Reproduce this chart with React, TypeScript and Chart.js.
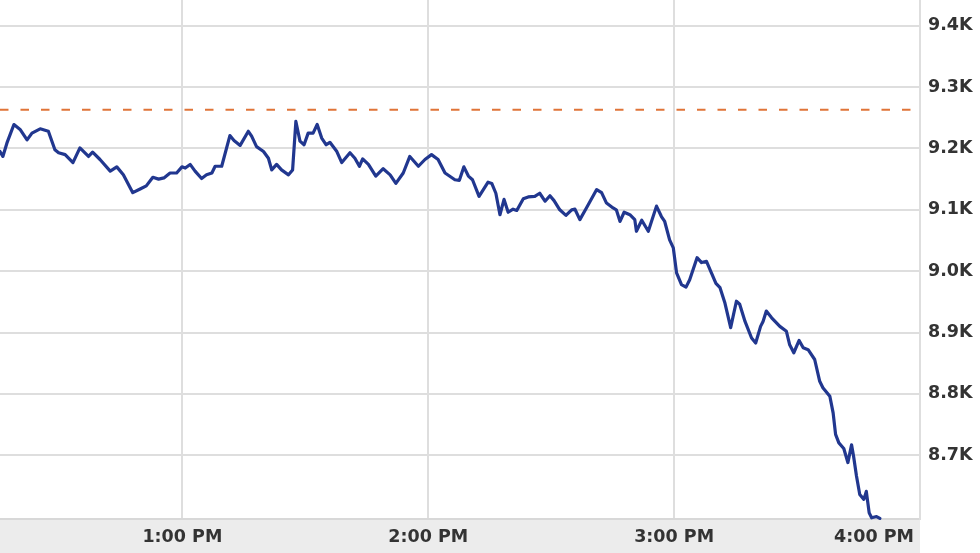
import React, { useEffect, useRef } from "react";
import { Chart, registerables } from "chart.js";

Chart.register(...registerables);

// time in minutes after 12:00 PM
const times = [
  15.5, 16.2, 17.2, 18.9, 20.4, 22.1, 23.3, 25.3, 27.3, 28.9, 29.8, 31.4, 33.3, 35.0, 37.1, 38.1, 39.9,
  42.4, 44.0, 45.6, 47.9, 49.7, 51.2, 52.8, 54.2, 55.5, 57.0, 58.6, 59.9, 60.7, 61.9, 63.1, 64.7, 65.9,
  67.2, 68.0, 69.6, 71.6, 72.6, 74.1, 76.1, 76.9, 78.1, 79.8, 81.0, 81.8, 83.0, 84.2, 85.9, 86.9, 87.7,
  88.7, 89.7, 90.7, 91.9, 92.9, 94.0, 95.1, 96.0, 97.7, 98.9, 100.9, 102.1, 103.2, 104.0, 105.4, 107.2,
  109.0, 110.7, 112.1, 113.9, 115.5, 117.6, 119.2, 120.8, 122.4, 124.1, 126.5, 127.6, 128.7, 129.8,
  130.8, 132.4, 134.6, 135.5, 136.5, 137.5, 138.5, 139.5, 140.7, 141.6, 143.2, 144.4, 146.0, 147.2,
  148.5, 149.7, 150.7, 152.1, 153.6, 155.0, 155.8, 157.0, 158.6, 161.1, 162.3, 163.5, 165.1, 165.9,
  166.8, 167.8, 169.2, 170.4, 170.8, 172.1, 173.7, 175.7, 176.9, 177.7, 178.9, 179.8, 180.6, 181.8,
  182.9, 183.8, 185.6, 186.7, 187.9, 189.1, 190.2, 191.2, 192.4, 193.8, 195.2, 196.0, 197.3, 198.9,
  199.9, 201.1, 201.7, 202.5, 203.8, 205.8, 207.4, 208.2, 209.2, 210.5, 211.5, 212.7, 214.3, 215.5,
  216.3, 218.0, 218.8, 219.4, 220.2, 221.4, 222.4, 223.3, 223.8, 224.5, 225.3, 226.3, 226.9, 227.6,
  228.2, 229.4, 230.2,
];

const values = [
  9195, 9187, 9209, 9239, 9231, 9214, 9225, 9232, 9228, 9198, 9193, 9190, 9177, 9201, 9187, 9194, 9182,
  9163, 9170, 9157, 9128, 9134, 9139, 9153, 9150, 9152, 9160, 9160, 9170, 9168, 9174, 9163, 9151, 9157,
  9160, 9171, 9171, 9221, 9213, 9205, 9228, 9220, 9203, 9195, 9184, 9165, 9174, 9165, 9157, 9165, 9244,
  9212, 9206, 9225, 9225, 9239, 9217, 9206, 9210, 9195, 9177, 9193, 9184, 9171, 9183, 9174, 9155,
  9167, 9157, 9143, 9160, 9187, 9171, 9182, 9190, 9182, 9160, 9149, 9148, 9170, 9155,
  9149, 9122, 9145, 9143, 9127, 9092, 9117, 9096, 9101, 9099, 9118, 9121, 9122, 9127,
  9114, 9123, 9115, 9100, 9091, 9100, 9101, 9084, 9103, 9133, 9128, 9111, 9103, 9100,
  9081, 9096, 9092, 9084, 9065, 9083, 9065, 9106, 9089, 9081, 9051, 9038, 8997, 8978,
  8974, 8986, 9022, 9014, 9016, 8997, 8980, 8973, 8948, 8908, 8951, 8946, 8918, 8891,
  8883, 8910, 8918, 8935, 8924, 8910, 8902, 8880, 8867, 8887, 8875, 8872, 8856, 8821,
  8810, 8796, 8769, 8734, 8720, 8711, 8688, 8717, 8698, 8666, 8636, 8628, 8641, 8606,
  8598, 8600, 8597,
];

const previousClose = 9263;

const xMin = 15.5;
const xMax = 240;
const xTickValues = [60, 120, 180, 240];
const xTickLabels = ["1:00 PM", "2:00 PM", "3:00 PM", "4:00 PM"];

const yMin = 8596;
const yMax = 9442;
const yTickValues = [8700, 8800, 8900, 9000, 9100, 9200, 9300, 9400];
const yTickLabels = ["8.7K", "8.8K", "8.9K", "9.0K", "9.1K", "9.2K", "9.3K", "9.4K"];

const FONT = { family: "'DejaVu Sans', Verdana, sans-serif", size: 17.5, weight: "bold" as const };
const GRID = "#dedede";

const stripPlugin = {
  id: "axisStrip",
  beforeDraw(chart: any) {
    const { ctx, chartArea } = chart;
    ctx.save();
    ctx.fillStyle = "#ececec";
    ctx.fillRect(0, chartArea.bottom, chartArea.right, chart.height - chartArea.bottom);
    ctx.restore();
  },
};

export default function App() {
  const ref = useRef<HTMLCanvasElement | null>(null);

  useEffect(() => {
    document.body.style.margin = "0";
    if (!ref.current) return;
    const points = times.map((t, i) => ({ x: t, y: values[i] }));
    const chart = new Chart(ref.current, {
      type: "line",
      data: {
        datasets: [
          {
            data: points,
            borderColor: "#21378f",
            borderWidth: 3.2,
            pointRadius: 0,
            tension: 0,
            borderJoinStyle: "round",
            borderCapStyle: "round",
            clip: false as any,
          },
          {
            data: [
              { x: xMin, y: previousClose },
              { x: xMax, y: previousClose },
            ],
            borderColor: "#e07438",
            borderWidth: 2,
            borderDash: [8.5, 12],
            pointRadius: 0,
          },
        ],
      },
      options: {
        animation: false,
        responsive: false,
        devicePixelRatio: 1,
        layout: { padding: 0 },
        plugins: { legend: { display: false }, tooltip: { enabled: false } },
        scales: {
          x: {
            type: "linear",
            min: xMin,
            max: xMax,
            afterBuildTicks: (scale: any) => {
              scale.ticks = [xMin, ...xTickValues].map((v) => ({ value: v }));
            },
            afterFit: (scale: any) => {
              scale.height = 34;
              scale.paddingLeft = 0;
              scale.paddingRight = 0;
            },
            grid: {
              color: (c: any) => (c.tick && c.tick.value === xMin ? "rgba(0,0,0,0)" : GRID),
              lineWidth: 2,
              drawTicks: false,
            },
            border: { display: true, color: "#d8d8d8", width: 2 },
            ticks: {
              autoSkip: false,
              maxRotation: 0,
              align: "inner",
              padding: 8,
              color: "#333",
              font: FONT,
              callback: (v: any) => {
                const i = xTickValues.indexOf(Number(v));
                if (i < 0) return "";
                return i === xTickValues.length - 1 ? xTickLabels[i] + " " : xTickLabels[i];
              },
            },
          },
          y: {
            type: "linear",
            position: "right",
            min: yMin,
            max: yMax,
            afterBuildTicks: (scale: any) => {
              scale.ticks = yTickValues.map((v) => ({ value: v }));
            },
            afterFit: (scale: any) => {
              scale.width = 60;
              scale.paddingTop = 0;
              scale.paddingBottom = 0;
            },
            grid: { color: GRID, lineWidth: 2, drawTicks: false },
            border: { display: true, color: GRID, width: 2 },
            ticks: {
              padding: 8,
              color: "#333",
              font: FONT,
              callback: (v: any) => {
                const i = yTickValues.indexOf(Number(v));
                return i < 0 ? "" : yTickLabels[i];
              },
            },
          },
        },
      },
      plugins: [stripPlugin],
    });
    return () => chart.destroy();
  }, []);

  return (
    <div style={{ width: 980, height: 553, background: "#fff" }}>
      <canvas ref={ref} width={980} height={553} />
    </div>
  );
}
